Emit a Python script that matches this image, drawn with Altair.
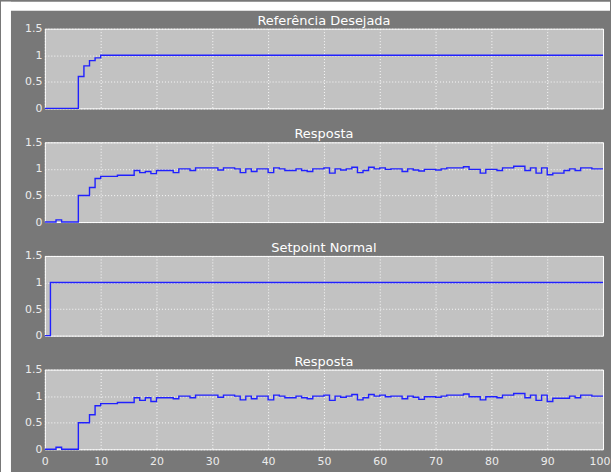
import altair as alt
import pandas as pd

# Sample times (s) for the response signals
t = list(range(101))

# Desired reference: step changes (time, value)
ref_t = [0, 6, 7, 8, 9, 10, 100]
ref_v = [0, 0.6, 0.8, 0.9, 0.95, 1.0, 1.0]

# Normal setpoint: unit step
sp_t = [0, 1, 100]
sp_v = [0, 1, 1]

# Response to the desired reference
resp_a = [
    0, 0, 0.04, 0, 0, 0, 0.5, 0.5, 0.65, 0.82,
    0.86, 0.86, 0.86, 0.88, 0.88, 0.88, 0.97, 0.93, 0.95, 0.91,
    0.97, 0.97, 0.97, 0.93, 1.0, 1.0, 0.97, 1.02, 1.02, 1.02,
    1.02, 0.98, 1.02, 1.02, 1.0, 0.93, 1.0, 0.95, 1.0, 1.0,
    0.93, 1.02, 1.0, 0.97, 0.97, 1.0, 0.97, 0.95, 1.0, 1.0,
    1.02, 0.92, 1.0, 0.98, 1.0, 1.03, 0.93, 0.97, 1.03, 1.0,
    1.02, 0.99, 1.0, 1.0, 0.95, 1.0, 0.98, 0.96, 0.99, 0.99,
    0.98, 1.0, 1.02, 1.02, 1.02, 1.04, 0.99, 0.99, 0.92, 0.99,
    0.99, 0.97, 1.02, 1.02, 1.05, 1.05, 0.97, 1.02, 0.92, 1.02,
    0.89, 0.92, 0.92, 0.97, 1.0, 0.97, 1.02, 1.02, 1.0, 1.0,
    1.0,
]

# Response to the normal setpoint
resp_b = [
    0, 0, 0.04, 0, 0, 0, 0.5, 0.5, 0.65, 0.82,
    0.86, 0.86, 0.86, 0.88, 0.88, 0.88, 0.97, 0.92, 0.97, 0.9,
    0.97, 0.97, 0.97, 0.95, 1.0, 1.0, 0.97, 1.02, 1.02, 1.02,
    1.02, 0.98, 1.02, 1.02, 1.0, 0.93, 1.0, 0.95, 1.0, 1.0,
    0.93, 1.02, 1.0, 0.97, 0.97, 1.0, 0.97, 0.95, 1.0, 1.0,
    1.02, 0.92, 1.0, 0.98, 1.0, 1.03, 0.93, 0.97, 1.03, 1.0,
    1.02, 0.99, 1.0, 1.0, 0.95, 1.0, 0.98, 0.94, 0.99, 0.99,
    0.98, 1.0, 1.02, 1.02, 1.02, 1.04, 0.99, 0.99, 0.93, 0.99,
    0.99, 0.97, 1.02, 1.02, 1.05, 1.05, 0.97, 1.02, 0.92, 1.02,
    0.9, 0.96, 0.96, 0.96, 1.0, 0.97, 1.02, 1.02, 1.0, 1.0,
    1.0,
]

titles = ["Referência Desejada", "Resposta", "Setpoint Normal", "Resposta"]

FIG_BG = "#787878"
AX_BG = "#c2c2c2"
LINE = "#2020ff"
TEXT = "#ececec"
FONT = "DejaVu Sans"

W, H = 560, 80          # plot area of each panel
GAP = 34                # vertical distance between plot areas
LEFT, TOP = 44, 27      # plot origin of the first panel inside the figure
FIG_W, FIG_H = 611, 472
MARGIN_L, MARGIN_T = 10, 9   # white page margin around the grey figure


def page_margin(x0, x1, y0, y1):
    """White page strip outside the grey figure, in panel pixels."""
    return (
        alt.Chart(alt.Data(values=[{}]))
        .mark_rect(color="white")
        .encode(x=alt.value(x0), x2=alt.value(x1), y=alt.value(y0), y2=alt.value(y1))
    )


def panel_title(text):
    return (
        alt.Chart(alt.Data(values=[{}]))
        .mark_text(text=text, font=FONT, fontSize=13, color="white",
                   align="center", baseline="middle")
        .encode(x=alt.value(W / 2), y=alt.value(-8))
    )


def panel(times, values, title, show_x, idx):
    df = pd.DataFrame({"t": times, "v": values})
    x_axis = alt.Axis(
        values=list(range(0, 101, 10)),
        labels=show_x,
        ticks=False,
        domain=False,
        title=None,
        labelFlush=False,
        labelPadding=6,
        labelAlign={"condition": {"test": "datum.value == 100", "value": "right"}, "value": "center"},
        labelOffset={"condition": {"test": "datum.value == 100", "value": 7}, "value": 0},
    )
    y_axis = alt.Axis(
        values=[0, 0.5, 1, 1.5],
        format="~g",
        ticks=False,
        domain=False,
        title=None,
        labelPadding=3,
    )
    line = (
        alt.Chart(df)
        .mark_line(interpolate="step-after", color=LINE, strokeWidth=1.4)
        .encode(
            x=alt.X("t:Q", scale=alt.Scale(domain=[0, 100], nice=False, zero=False), axis=x_axis),
            y=alt.Y("v:Q", scale=alt.Scale(domain=[0, 1.5], nice=False), axis=y_axis),
        )
    )
    layers = []
    if idx == 0:
        # page margin: full-height strip on the left and a strip along the top
        layers.append(page_margin(-LEFT, -LEFT + MARGIN_L, -TOP, FIG_H - TOP))
        layers.append(page_margin(-LEFT, FIG_W - LEFT, -TOP, -TOP + MARGIN_T))
    layers += [panel_title(title), line]
    return alt.layer(*layers).properties(width=W, height=H)


chart = (
    alt.vconcat(
        panel(ref_t, ref_v, titles[0], False, 0),
        panel(t, resp_a, titles[1], False, 1),
        panel(sp_t, sp_v, titles[2], False, 2),
        panel(t, resp_b, titles[3], True, 3),
        spacing=GAP,
        bounds="flush",
    )
    .properties(background=FIG_BG, padding=0)
    .configure_view(fill=AX_BG, stroke="white", strokeWidth=1)
    .configure_axis(
        gridColor="white",
        gridDash=[1, 2],
        gridOpacity=0.9,
        gridWidth=1,
        labelColor=TEXT,
        labelFont=FONT,
        labelFontSize=11,
    )
)

chart.save("out.html", embed_options={"renderer": "svg", "actions": False})
